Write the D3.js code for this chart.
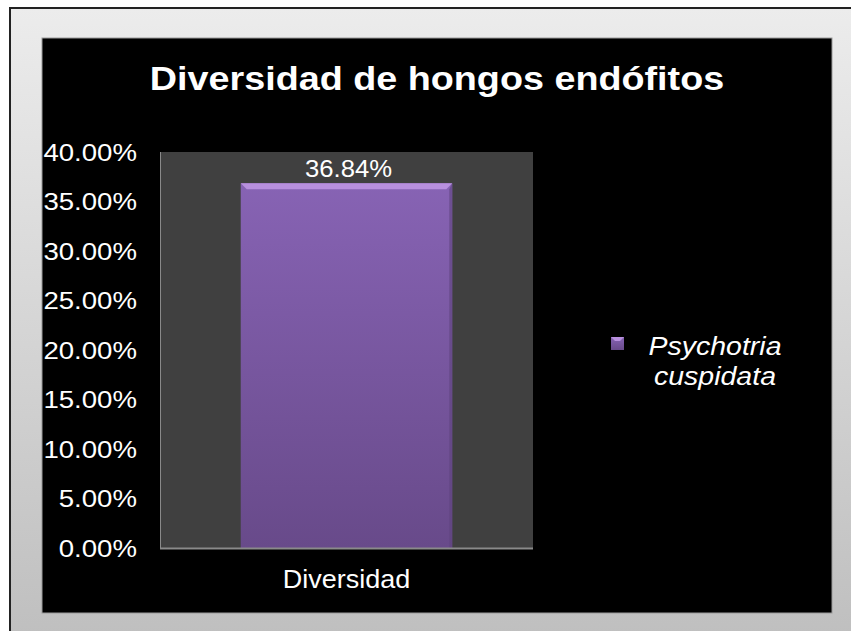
<!DOCTYPE html>
<meta charset="utf-8">
<title>Diversidad de hongos endófitos</title>
<style>

body {
  margin: 0;
  background: #fff;
}

text {
  font-family: "Liberation Sans", Arial, sans-serif;
  fill: #fff;
}

</style>
<body>
<script src="https://cdn.jsdelivr.net/npm/d3@7"></script>
<script>

var categories = ["Diversidad"],
    series = ["Psychotria cuspidata"],
    values = [0.3684],
    yTicks = [0, 0.05, 0.10, 0.15, 0.20, 0.25, 0.30, 0.35, 0.40];

var w = 851,
    h = 631;

var pct = d3.format(".2%");

var svg = d3.select("body").append("svg")
    .attr("width", w)
    .attr("height", h);

var defs = svg.append("defs");

var frameGrad = defs.append("linearGradient")
    .attr("id", "frame")
    .attr("x1", 0).attr("y1", 0).attr("x2", 0).attr("y2", 1);
frameGrad.append("stop").attr("offset", "0%").attr("stop-color", "#ececec");
frameGrad.append("stop").attr("offset", "100%").attr("stop-color", "#bfbfbf");

var barGrad = defs.append("linearGradient")
    .attr("id", "bar")
    .attr("x1", 0).attr("y1", 0).attr("x2", 0).attr("y2", 1);
barGrad.append("stop").attr("offset", "0%").attr("stop-color", "#8763b4");
barGrad.append("stop").attr("offset", "100%").attr("stop-color", "#684a8a");

// the picture is a bit wider than tall, so the text is stretched sideways
function stretch(sel, x, y, sx) {
  sel.attr("x", 0).attr("y", 0)
      .attr("transform", "translate(" + x + "," + y + ")scale(" + sx + ",1)");
}

// outer frame
svg.append("rect")
    .attr("x", 10)
    .attr("y", 8)
    .attr("width", w)
    .attr("height", h)
    .style("fill", "url(#frame)")
    .style("stroke", "#222")
    .style("stroke-width", 2);

// chart area
svg.append("rect")
    .attr("x", 42)
    .attr("y", 38)
    .attr("width", 790)
    .attr("height", 575)
    .style("fill", "#000")
    .style("stroke", "#9a9a9a")
    .style("stroke-width", 1);

svg.append("text")
    .attr("text-anchor", "middle")
    .style("font-size", "34px")
    .style("font-weight", "bold")
    .text("Diversidad de hongos endófitos")
    .call(stretch, 437, 90, 1.11);

var plot = {left: 160, right: 533, top: 152, bottom: 548};

var x = d3.scaleBand()
    .domain(categories)
    .range([plot.left, plot.right])
    .paddingInner(0.4)
    .paddingOuter(0.229);

var y = d3.scaleLinear()
    .domain([0, 0.4])
    .range([plot.bottom, plot.top]);

svg.append("rect")
    .attr("x", plot.left)
    .attr("y", plot.top)
    .attr("width", plot.right - plot.left)
    .attr("height", plot.bottom - plot.top)
    .style("fill", "#404040");

svg.append("line")
    .attr("x1", plot.left + 0.5).attr("x2", plot.left + 0.5)
    .attr("y1", plot.top).attr("y2", plot.bottom)
    .style("stroke", "#8a8a8a");

var yAxis = svg.append("g")
    .attr("transform", "translate(" + plot.left + ",0)")
    .call(d3.axisLeft(y).tickValues(yTicks).tickFormat(pct).tickSize(0));
yAxis.select(".domain").remove();
yAxis.selectAll("text")
    .style("font-size", "24px")
    .style("fill", "#fff")
    .style("font-family", "'Liberation Sans', Arial, sans-serif")
    .attr("dy", null)
    .each(function() { d3.select(this).call(stretch, -23, 8, 1.15); });

var bars = svg.selectAll(".bar")
    .data(values)
  .enter().append("g")
    .attr("class", "bar");

bars.append("rect")
    .attr("x", function(d, i) { return x(categories[i]); })
    .attr("y", function(d) { return y(d); })
    .attr("width", x.bandwidth())
    .attr("height", function(d) { return y(0) - y(d); })
    .style("fill", "url(#bar)");

// bevel on top and sides
bars.append("path")
    .attr("d", function(d, i) {
      var x0 = x(categories[i]), x1 = x0 + x.bandwidth(), t = y(d), b = 6;
      return "M" + x0 + "," + t + "H" + x1 + "L" + (x1 - b) + "," + (t + b) + "H" + (x0 + b) + "Z";
    })
    .style("fill", "#b890de");

bars.append("path")
    .attr("d", function(d, i) {
      var x1 = x(categories[i]) + x.bandwidth(), t = y(d), b = 6;
      return "M" + x1 + "," + t + "V" + y(0) + "H" + (x1 - 3) + "V" + (t + b) + "Z";
    })
    .style("fill", "#5e437d")
    .style("opacity", 0.6);

bars.append("text")
    .attr("text-anchor", "middle")
    .style("font-size", "24px")
    .text(function(d) { return pct(d); })
    .each(function(d, i) {
      d3.select(this).call(stretch, x(categories[i]) + x.bandwidth() / 2 + 2, y(d) - 6, 1.07);
    });

svg.append("line")
    .attr("x1", plot.left).attr("x2", plot.right)
    .attr("y1", plot.bottom + 0.5).attr("y2", plot.bottom + 0.5)
    .style("stroke", "#8a8a8a")
    .style("stroke-width", 2);

var xAxis = svg.append("g")
    .attr("transform", "translate(0," + plot.bottom + ")")
    .call(d3.axisBottom(x).tickSize(0));
xAxis.select(".domain").remove();
xAxis.selectAll("text")
    .style("font-size", "25px")
    .style("fill", "#fff")
    .style("font-family", "'Liberation Sans', Arial, sans-serif")
    .attr("dy", null)
    .each(function() { d3.select(this).call(stretch, 0, 40, 1.08); });

// legend
var legend = svg.append("g")
    .attr("transform", "translate(611,337)");

legend.append("rect")
    .attr("width", 13)
    .attr("height", 13)
    .style("fill", "url(#bar)");

legend.append("path")
    .attr("d", "M0,0H13L9,4H4Z")
    .style("fill", "#b890de");

legend.selectAll(".series")
    .data(series[0].split(" "))
  .enter().append("text")
    .attr("class", "series")
    .attr("text-anchor", "middle")
    .style("font-size", "25px")
    .style("font-style", "italic")
    .text(function(d) { return d; })
    .each(function(d, i) { d3.select(this).call(stretch, 104, 18 + i * 30, 1.14); });

</script>
